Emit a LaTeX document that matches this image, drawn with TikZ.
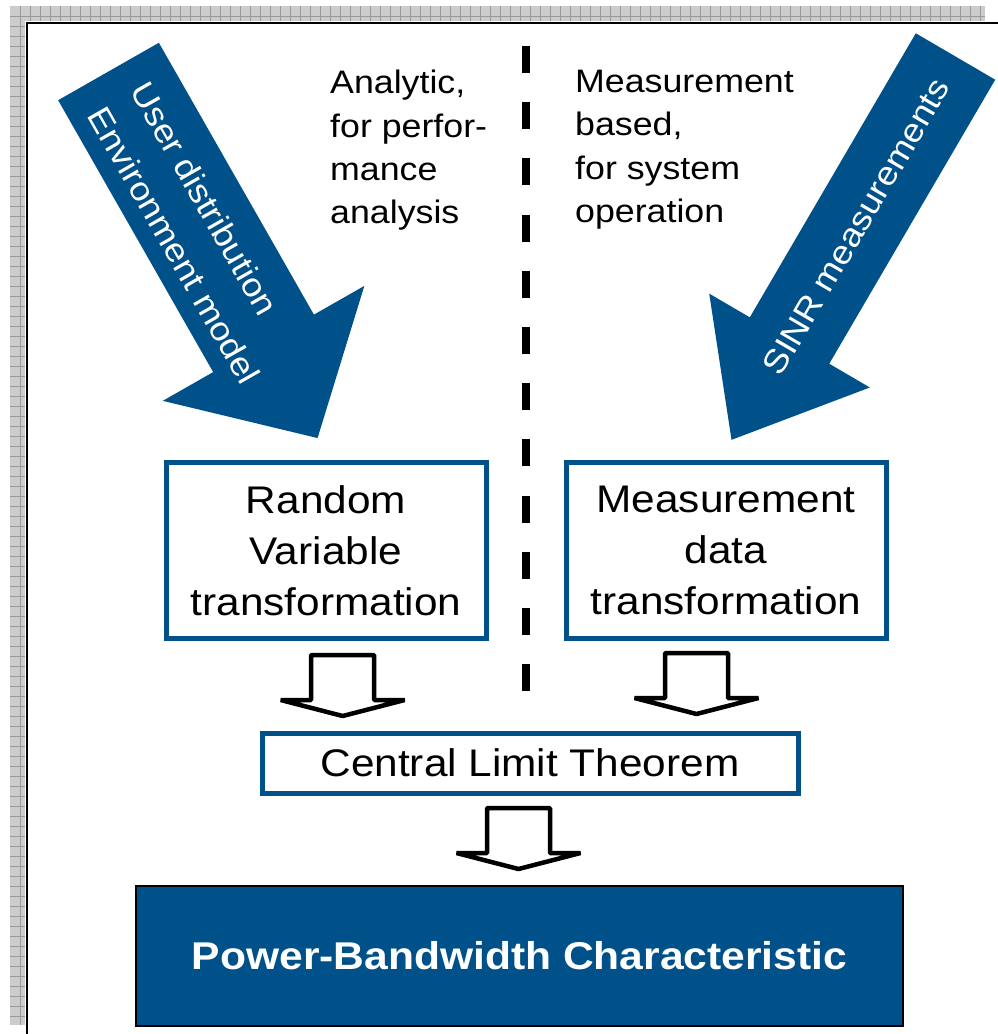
\documentclass[tikz,border=0pt]{standalone}
\usepackage{fontspec}
\setmainfont{Liberation Sans}[FakeStretch=1.1]
\definecolor{nsnblue}{RGB}{0,81,138}
\begin{document}
\begin{tikzpicture}[x=1pt,y=-1pt,
  txtbox/.style={draw=nsnblue,line width=5pt,fill=white,align=center,inner sep=0pt,
    font=\fontsize{38.5}{51}\selectfont},
  fatarrow/.style={fill=nsnblue},
  arrowtext/.style={text=white,inner sep=0pt,transform shape,
    font=\fontsize{33}{50}\selectfont},
  sidetext/.style={anchor=north west,align=left,inner sep=0pt,
    font=\fontsize{32.5}{43.4}\selectfont},
  hollowdown/.pic={
    \draw[line width=4.5pt,fill=white,line join=bevel]
      (-31.5,0) -- (31.5,0) -- (31.5,45) -- (62,45) -- (0,61)
      -- (-62,45) -- (-31.5,45) -- cycle;
  }]
\useasboundingbox (0,0) rectangle (998,1034);
% slide frame
\fill[gray!40] (10,6) rectangle (985,21);
\fill[gray!40] (10,6) rectangle (25,1025);
\foreach \gx in {20,30,...,980}
  \draw[gray!80,line width=0.8pt] (\gx,6) -- (\gx,21);
\foreach \gy in {16,26,...,1016}
  \draw[gray!80,line width=0.8pt] (10,\gy) -- (25,\gy);
\draw[gray!80,line width=0.8pt] (25,16) -- (985,16);
\draw[gray!80,line width=0.8pt] (20,21) -- (20,1025);
\draw[line width=2pt] (27,1034) -- (27,23) -- (998,23);
% divider
\coordinate (divtop) at (525.5,46);
\coordinate (divbot) at (525.5,691);
\draw[line width=8pt,dash pattern=on 27pt off 29.2pt] (divtop) -- (divbot);
% input arrows
\begin{scope}[shift={(108.5,71.5)},rotate=-60.3]
\fill[fatarrow] (0,-58) -- (313,-58) -- (313,-116) -- (422,0) -- (313,116)
  -- (313,58) -- (0,58) -- cycle;
\node[arrowtext,anchor=west,align=left] (usertxt) at (27,4)
  {User distribution\\Environment model};
\end{scope}
\begin{scope}[shift={(955.5,56.5)},rotate=-120.3]
\fill[fatarrow] (0,-46) -- (329,-46) -- (329,-93) -- (444,0) -- (329,93)
  -- (329,46) -- (0,46) -- cycle;
\node[arrowtext,rotate=180] (sinrtxt) at (197,0) {SINR measurements};
\end{scope}
% headings
\node[sidetext] (analytic) at (330,70) {Analytic,\\for perfor-\\mance\\analysis};
\node[sidetext] (measbased) at (575,70) {Measurement\\based,\\for system\\operation};
% boxes
\node[txtbox,minimum width=320pt,minimum height=176pt] (rvt) at (326,550.5)
  {Random\\Variable\\transformation};
\node[txtbox,minimum width=320pt,minimum height=176pt] (mdt) at (726,550.5)
  {Measurement\\data\\transformation};
\node[txtbox,minimum width=536pt,minimum height=60pt] (clt) at (530,763)
  {Central Limit Theorem};
\node[draw=black,line width=2pt,fill=nsnblue,text=white,inner sep=0pt,
  font=\fontsize{38.7}{46}\selectfont\bfseries,
  minimum width=767pt,minimum height=140pt] (pbc) at (519.5,956)
  {Power-Bandwidth Characteristic};
% block arrows
\pic (arrl) at (342.7,655) {hollowdown};
\pic (arrr) at (696.5,653) {hollowdown};
\pic (arrb) at (518.5,808) {hollowdown};
\end{tikzpicture}
\end{document}
